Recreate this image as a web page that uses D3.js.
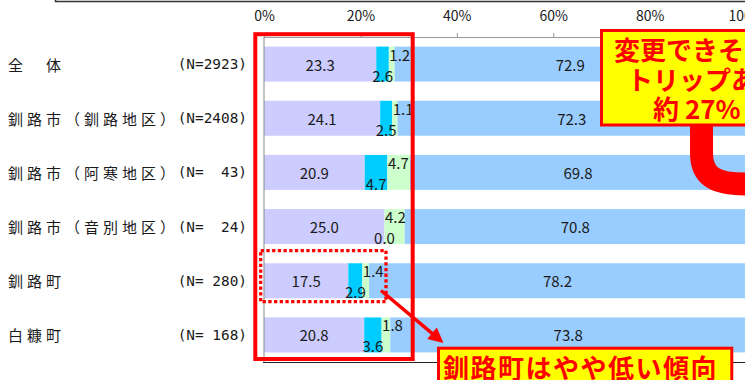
<!DOCTYPE html>
<html lang="ja">
<head>
<meta charset="utf-8">
<script src="https://cdn.jsdelivr.net/npm/d3@7"></script>
<style>
  html, body { margin: 0; padding: 0; background: #fff; }
  svg { display: block; }
  text { white-space: pre; }
</style>
</head>
<body>
<svg id="chart" width="745" height="380"></svg>
<script>
// ---- data ----
const categories = ["全　体", "釧路市（釧路地区）", "釧路市（阿寒地区）", "釧路市（音別地区）", "釧路町", "白糠町"];
const sampleSizes = [2923, 2408, 43, 24, 280, 168];
const series1 = [23.3, 24.1, 20.9, 25.0, 17.5, 20.8];
const series2 = [2.6, 2.5, 4.7, 0.0, 2.9, 3.6];
const series3 = [1.2, 1.1, 4.7, 4.2, 1.4, 1.8];
const series4 = [72.9, 72.3, 69.8, 70.8, 78.2, 73.8];
const tickValues = [0, 20, 40, 60, 80, 100];
const seriesKeys = ["s1", "s2", "s3", "s4"];

// ---- styles ----
const colors = { s1: "#CCCCFF", s2: "#00CCFF", s3: "#CCFFCC", s4: "#99CCFF" };
const RED = "#FF0000", YELLOW = "#FFFF00", INK = "#1a1a1a";
const jp = "'Noto Sans CJK JP', 'Noto Sans', sans-serif";

const rows = categories.map((c, i) => ({
  cat: c, n: sampleSizes[i],
  s1: series1[i], s2: series2[i], s3: series3[i], s4: series4[i]
}));

const svg = d3.select("#chart");

const plot = { left: 264, right: 746, top: 37, bottom: 362 };
const x = d3.scaleLinear().domain([0, 100]).range([plot.left, plot.right]);
const y = d3.scaleBand().domain(categories).range([plot.top, plot.bottom])
  .paddingInner(0.354).paddingOuter(0.177);

// outer frame edge at the top
svg.append("path").attr("d", "M55.5,0 V1.5 H745")
  .attr("fill", "none").attr("stroke", "#333").attr("stroke-width", 1.5);

// top axis
const axis = d3.axisTop(x).tickValues(tickValues).tickSize(4).tickFormat(d => d + "%");
const ax = svg.append("g").attr("transform", `translate(0,${plot.top})`).call(axis);
ax.select(".domain").attr("stroke", "#999");
ax.selectAll(".tick line").attr("stroke", "#999");
ax.selectAll(".tick text").attr("font-family", jp).attr("font-size", 14)
  .attr("fill", INK).attr("y", -21).attr("dy", "0.35em");

// stacked bars
const stack = d3.stack().keys(seriesKeys)(rows);
const layers = svg.append("g");
stack.forEach(layer => {
  layers.append("g").selectAll("rect").data(layer).join("rect")
    .attr("x", d => x(d[0]))
    .attr("width", d => x(d[1]) - x(d[0]))
    .attr("y", d => y(d.data.cat))
    .attr("height", y.bandwidth())
    .attr("fill", colors[layer.key]);
});

// left and bottom axis lines
svg.append("line").attr("x1", plot.left).attr("x2", plot.left)
  .attr("y1", plot.top).attr("y2", plot.bottom).attr("stroke", "#888").attr("stroke-width", 1);
svg.append("line").attr("x1", plot.left - 1).attr("x2", 745)
  .attr("y1", plot.bottom + 0.5).attr("y2", plot.bottom + 0.5).attr("stroke", "#222").attr("stroke-width", 1);

// value labels
const lbl = svg.append("g").attr("font-family", jp).attr("font-size", 15).attr("fill", INK);
stack.forEach(layer => {
  lbl.append("g").selectAll("text").data(layer).join("text")
    .attr("dominant-baseline", "central")
    .attr("text-anchor", layer.key === "s3" ? "start" : "middle")
    .attr("x", d => layer.key === "s3" ? x(d[0]) + 0.5 : (x(d[0]) + x(Math.min(d[1], 100))) / 2)
    .attr("y", d => {
      const cy = y(d.data.cat) + y.bandwidth() / 2;
      if (layer.key === "s2") return cy + 11;
      if (layer.key === "s3") return cy - 10;
      return cy;
    })
    .text(d => d.data[layer.key].toFixed(1));
});

// category labels
const cats = svg.append("g").attr("fill", INK);
cats.selectAll("text.cat").data(rows).join("text").attr("class", "cat")
  .attr("x", 8).attr("y", d => y(d.cat) + y.bandwidth() / 2)
  .attr("dominant-baseline", "central")
  .attr("font-family", jp).attr("font-size", 15).attr("letter-spacing", 4)
  .text(d => d.cat);
cats.selectAll("text.n").data(rows).join("text").attr("class", "n")
  .attr("x", 247).attr("y", d => y(d.cat) + y.bandwidth() / 2)
  .attr("dominant-baseline", "central").attr("text-anchor", "end")
  .attr("font-family", "'DejaVu Sans Mono', 'Liberation Mono', monospace").attr("font-size", 14.4)
  .text(d => `(N=${String(d.n).padStart(4, " ")})`);

// ---- annotations ----
const ann = svg.append("g");

// highlight of 釧路町 row
ann.append("rect").attr("x", 260.7).attr("y", 250.7).attr("width", 125.3).attr("height", 51)
  .attr("fill", "none").attr("stroke", RED).attr("stroke-width", 3.3)
  .attr("stroke-dasharray", "3.3 2.4");

// box around the first three segments
ann.append("rect").attr("x", 255.3).attr("y", 34.2).attr("width", 157.4).attr("height", 324.8)
  .attr("fill", "none").attr("stroke", RED).attr("stroke-width", 4);

// straight arrow to the lower note
(function () {
  const x0 = 381, y0 = 290.5, x1 = 443.5, y1 = 343;
  const dx = x1 - x0, dy = y1 - y0, len = Math.hypot(dx, dy);
  const ux = dx / len, uy = dy / len, px = -uy, py = ux;
  const headL = 15, headW = 7.5;
  const bx = x1 - ux * headL, by = y1 - uy * headL;
  ann.append("line").attr("x1", x0).attr("y1", y0).attr("x2", bx + ux * 2).attr("y2", by + uy * 2)
    .attr("stroke", RED).attr("stroke-width", 3.5);
  ann.append("path")
    .attr("d", `M${x1},${y1} L${bx + px * headW},${by + py * headW} L${bx - px * headW},${by - py * headW} Z`)
    .attr("fill", RED);
})();

// thick curved arrow leaving the upper note
ann.append("path")
  .attr("d", "M701.5,110 V153 C701.5,177 716,184 745,184 H770")
  .attr("fill", "none").attr("stroke", RED).attr("stroke-width", 23);

// upper note
ann.append("rect").attr("x", 601.5).attr("y", 30.5).attr("width", 260).attr("height", 94.5)
  .attr("fill", YELLOW).attr("stroke", RED).attr("stroke-width", 3);
const note1 = ann.append("g").attr("font-family", jp).attr("font-size", 26)
  .attr("font-weight", "bold").attr("fill", RED).attr("dominant-baseline", "central");
note1.append("text").attr("x", 705).attr("y", 48.5).attr("text-anchor", "middle").text("変更できそうな");
note1.append("text").attr("x", 705).attr("y", 78).attr("text-anchor", "middle").text("トリップあり");
note1.append("text").attr("x", 653).attr("y", 107.5).attr("text-anchor", "start").text("約 27%");

// lower note
ann.append("rect").attr("x", 438.5).attr("y", 348.2).attr("width", 293.3).attr("height", 60)
  .attr("fill", YELLOW).attr("stroke", RED).attr("stroke-width", 3);
ann.append("text").attr("x", 443).attr("y", 366).attr("dominant-baseline", "central")
  .attr("font-family", jp).attr("font-size", 26).attr("font-weight", "bold")
  .attr("letter-spacing", 1.5).attr("fill", RED).text("釧路町はやや低い傾向");
</script>
</body>
</html>
